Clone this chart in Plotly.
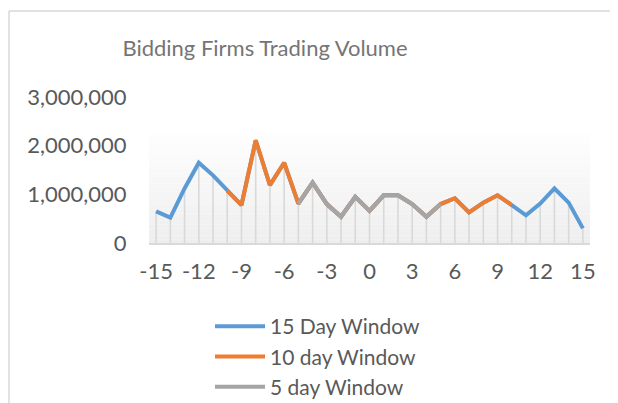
import plotly.graph_objects as go

# ---- data ----
days_15 = list(range(-15, 16))
volume_15 = [650000, 520000, 1120000, 1650000, 1390000, 1070000, 780000, 2110000,
             1190000, 1650000, 810000, 1240000, 800000, 540000, 950000, 660000,
             980000, 980000, 800000, 540000, 800000, 920000, 630000, 830000,
             980000, 780000, 570000, 810000, 1120000, 830000, 300000]
days_10 = list(range(-10, 11))
volume_10 = [1070000, 780000, 2110000, 1190000, 1650000, 810000, 1240000, 800000,
             540000, 950000, 660000, 980000, 980000, 800000, 540000, 800000,
             920000, 630000, 830000, 980000, 780000]
days_5 = list(range(-5, 6))
volume_5 = [810000, 1240000, 800000, 540000, 950000, 660000, 980000, 980000,
            800000, 540000, 800000]
series_names = ["15 Day Window", "10 day Window", "5 day Window"]
x_ticks = [-15, -12, -9, -6, -3, 0, 3, 6, 9, 12, 15]
x_tick_labels = ["-15", "-12", "-9", "-6", "-3", "0", "3", "6", "9", "12", "15"]
y_ticks = [0, 1000000, 2000000, 3000000]
y_tick_labels = ["0", "1,000,000", "2,000,000", "3,000,000"]

# page body has an 8px margin, so the figure is sized to fit the window
OFF = 8
W, H = 618 - OFF, 403 - OFF
ML, MR, MT, MB = 149 - OFF, 28, 97 - OFF, 160
PW, PH = W - ML - MR, H - MT - MB

def px_x(px):
    return (px - OFF - ML) / PW

def px_y(py):
    return (H - MB - (py - OFF)) / PH

FONT = "Lato, 'Open Sans', sans-serif"
colors = ["#5B9BD5", "#ED7D31", "#A5A5A5"]

fig = go.Figure()

# drop lines
dx, dy = [], []
for d, v in zip(days_15, volume_15):
    dx += [d, d, None]
    dy += [0, v, None]
fig.add_trace(go.Scatter(x=dx, y=dy, mode="lines", showlegend=False,
                         line=dict(color="#D9D9D9", width=1.6), hoverinfo="skip"))

for name, xs, ys, c in zip(series_names, [days_15, days_10, days_5],
                           [volume_15, volume_10, volume_5], colors):
    fig.add_trace(go.Scatter(x=xs, y=ys, mode="lines", name=name,
                             line=dict(color=c, width=4)))

shapes = []
# gradient background of plot area
n = 30
top_val = 2280000
for i in range(n):
    t = i / (n - 1)
    g = int(round(238 + (254 - 238) * t))
    shapes.append(dict(type="rect", xref="paper", yref="y", x0=0, x1=1,
                       y0=top_val * i / n, y1=top_val * (i + 1) / n,
                       fillcolor=f"rgb({g},{g},{g})", line=dict(width=0),
                       layer="below"))
# chart border (left and top)
shapes.append(dict(type="line", xref="paper", yref="paper",
                   x0=px_x(9), x1=px_x(630), y0=px_y(11), y1=px_y(11),
                   line=dict(color="#D9D9D9", width=1.5)))
shapes.append(dict(type="line", xref="paper", yref="paper",
                   x0=px_x(9), x1=px_x(9), y0=px_y(11), y1=px_y(420),
                   line=dict(color="#D9D9D9", width=1.5)))

fig.update_layout(
    width=W, height=H,
    margin=dict(l=ML, r=MR, t=MT, b=MB, autoexpand=False),
    paper_bgcolor="white", plot_bgcolor="rgba(0,0,0,0)",
    shapes=shapes,
    title=dict(text="Bidding Firms Trading Volume", xref="paper", x=px_x(265),
               xanchor="center", yref="container", y=1 - (48 - OFF) / H, yanchor="middle",
               font=dict(family=FONT, size=22, color="#757575")),
    xaxis=dict(range=[-15.5, 15.5], tickvals=x_ticks, ticktext=x_tick_labels,
               showgrid=False, zeroline=False,
               showline=True, linecolor="#D9D9D9", linewidth=1.5,
               ticks="outside", ticklen=8, tickcolor="rgba(0,0,0,0)",
               tickfont=dict(family=FONT, size=22, color="#595959")),
    yaxis=dict(range=[0, 3000000], tickvals=y_ticks, ticktext=y_tick_labels,
               showgrid=False, zeroline=False, showline=False,
               ticks="outside", ticklen=17, tickcolor="rgba(0,0,0,0)",
               tickfont=dict(family=FONT, size=22, color="#595959")),
    legend=dict(orientation="v", xref="paper", yref="paper",
                x=px_x(210), xanchor="left", y=px_y(306), yanchor="top",
                font=dict(family=FONT, size=21, color="#595959"),
                tracegroupgap=0, itemwidth=50, bgcolor="rgba(0,0,0,0)"),
    showlegend=True,
)

fig.write_html("out.html")
